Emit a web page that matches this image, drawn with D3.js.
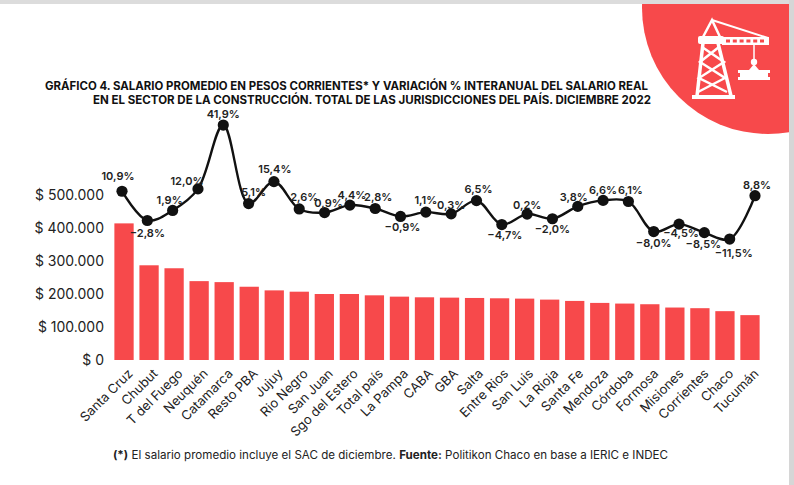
<!DOCTYPE html>
<html>
<head>
<meta charset="utf-8">
<script src="https://cdn.jsdelivr.net/npm/d3@7/dist/d3.min.js"></script>
<style>
  html, body { margin: 0; padding: 0; background: #fff; }
  svg { display: block; font-family: "Inter", "Noto Sans", sans-serif; }
</style>
</head>
<body>
<svg id="chart" width="794" height="485"></svg>
<script>
// ---------------- DATA ----------------
const categories = ["Santa Cruz","Chubut","T del Fuego","Neuquén","Catamarca","Resto PBA","Jujuy","Rio Negro","San Juan","Sgo del Estero","Total país","La Pampa","CABA","GBA","Salta","Entre Rios","San Luis","La Rioja","Santa Fe","Mendoza","Córdoba","Formosa","Misiones","Corrientes","Chaco","Tucumán"];
const salario = [414000,287000,278000,239000,236000,222000,211000,207000,200000,200000,196000,192000,190000,189000,188000,187000,186000,183000,179000,173000,171000,169000,159000,157000,148000,136000];
const variacion = [10.9,-2.8,1.9,12.0,41.9,5.1,15.4,2.6,0.9,4.4,2.8,-0.9,1.1,0.3,6.5,-4.7,0.2,-2.0,3.8,6.6,6.1,-8.0,-4.5,-8.5,-11.5,8.8];
const yTicks = [0,100000,200000,300000,400000,500000];
const titleLines = [
  "GRÁFICO 4. SALARIO PROMEDIO EN PESOS CORRIENTES* Y VARIACIÓN % INTERANUAL DEL SALARIO REAL",
  "EN EL SECTOR DE LA CONSTRUCCIÓN. TOTAL DE LAS JURISDICCIONES DEL PAÍS. DICIEMBRE 2022"
];
// label nudges (style): [dx, dy] relative to point
const labelNudge = [[-4,-15],[0,13],[-3,-10],[-11,-8],[0,-11],[5,-11],[1,-12],[5,-12],[4,-9],[2,-10],[3,-11],[2,11],[0,-12],[0,-9],[2,-11],[3,11],[0,-9],[0,10],[-4,-9],[0,-10],[2,-11],[0,12],[2,9],[-1,12],[4,14],[2,-11]];

// ---------------- LAYOUT ----------------
const svg = d3.select("#chart");
const RED = "#F7494B";
const fmt = v => "$ " + d3.format(",")(v).replace(/,/g, ".");
const pct = v => d3.format(".1f")(v).replace(".", ",") + "%";

// frame decorations
svg.append("rect").attr("x",0).attr("y",0).attr("width",794).attr("height",4).attr("fill","#dcdcdc");
svg.append("rect").attr("x",789).attr("y",0).attr("width",5).attr("height",485).attr("fill","#d6d6d6");

// red circle top-right
const deco = svg.append("g");
deco.append("clipPath").attr("id","clipc").append("rect").attr("x",0).attr("y",4).attr("width",789).attr("height",481);
deco.append("circle").attr("cx",768).attr("cy",8).attr("r",126).attr("fill",RED).attr("clip-path","url(#clipc)");

// crane icon (white)
const crane = svg.append("g").attr("fill","#fff").attr("stroke","#fff");
crane.append("rect").attr("x",692).attr("y",95).attr("width",43).attr("height",4).attr("stroke","none");
crane.append("path").attr("d","M703,43 L697,96 M718,43 L731,96").attr("stroke-width",3.5).attr("fill","none");
crane.append("path").attr("d","M702,47 L724,62 L699,78 L727,92 M719,47 L700,62 L725,78 L698,92").attr("stroke-width",2.5).attr("fill","none");
crane.append("rect").attr("x",698).attr("y",36).attr("width",26).attr("height",8).attr("rx",2).attr("stroke","none");
crane.append("path").attr("d","M703,37 L712,20 L720,37").attr("stroke-width",2.5).attr("fill","none");
crane.append("path").attr("d","M712,20 L768,38").attr("stroke-width",2).attr("fill","none");
crane.append("rect").attr("x",722).attr("y",37).attr("width",47).attr("height",8).attr("stroke","none");
const jibHoles = d3.range(6);
crane.selectAll(".hole").data(jibHoles).join("rect").attr("x",(d)=>726+d*6.8).attr("y",39.5).attr("width",4).attr("height",3).attr("fill",RED).attr("stroke","none");
crane.append("path").attr("d","M754,45 L754,59").attr("stroke-width",1.5).attr("fill","none");
crane.append("circle").attr("cx",754).attr("cy",62).attr("r",3.2).attr("stroke","none");
crane.append("path").attr("d","M754,64 L749,70 L759,70 Z").attr("stroke","none");
crane.append("path").attr("d","M738,70 L770,70 L770,73 L757,73 L757,77 L770,77 L770,80 L738,80 L738,77 L751,77 L751,73 L738,73 Z").attr("stroke","none");
crane.append("rect").attr("x",740).attr("y",72).attr("width",28).attr("height",6).attr("stroke","none");

// title
const title = svg.append("g").attr("font-weight",700).attr("font-size",11.6).attr("fill","#111");
title.append("text").attr("x",45).attr("y",90).attr("textLength",603).attr("lengthAdjust","spacingAndGlyphs").text(titleLines[0]);
title.append("text").attr("x",93).attr("y",103.5).attr("textLength",558).attr("lengthAdjust","spacingAndGlyphs").text(titleLines[1]);

// scales
const x = d3.scaleBand().domain(categories).range([111.5, 762.5]).paddingInner(0.23).paddingOuter(0.115);
const xLine = d3.scalePoint().domain(categories).range([122, 755]);
const y = d3.scaleLinear().domain([0, 600000]).range([360, 162]);
const yP = d3.scaleLinear().domain([-20, 45]).range([214.5 + 20*2.135, 214.5 - 45*2.135]);

// y axis (labels only)
const yAxis = svg.append("g").attr("transform","translate(104,0)")
  .call(d3.axisLeft(y).tickValues(yTicks).tickFormat(fmt).tickSize(0).tickPadding(0));
yAxis.select(".domain").remove();
yAxis.selectAll("text").attr("font-family","Inter, sans-serif").attr("font-size",14).attr("fill","#222");

// bars
svg.append("g").selectAll("rect").data(categories).join("rect")
  .attr("x", d => x(d))
  .attr("y", (d,i) => y(salario[i]))
  .attr("width", x.bandwidth())
  .attr("height", (d,i) => y(0) - y(salario[i]))
  .attr("fill", RED);

// x axis labels
const xAxis = svg.append("g").attr("transform","translate(0,360)")
  .call(d3.axisBottom(x).tickSize(0).tickPadding(0));
xAxis.select(".domain").remove();
xAxis.selectAll("text")
  .attr("font-family","Inter, sans-serif").attr("font-size",13).attr("fill","#222")
  .attr("text-anchor","end")
  .attr("transform","translate(3,8) rotate(-45)")
  .attr("dy","0.7em").attr("y",0);

// line
const line = d3.line().x((d,i) => xLine(categories[i])).y(d => yP(d)).curve(d3.curveCatmullRom.alpha(0.5));
svg.append("path").datum(variacion).attr("d", line).attr("fill","none").attr("stroke","#111").attr("stroke-width",2.4);
svg.append("g").selectAll("circle").data(variacion).join("circle")
  .attr("cx",(d,i)=>xLine(categories[i])).attr("cy",d=>yP(d)).attr("r",5.6).attr("fill","#111");

// percentage labels
svg.append("g").selectAll("text").data(variacion).join("text")
  .attr("x",(d,i)=>xLine(categories[i]) + labelNudge[i][0])
  .attr("y",(d,i)=>yP(d) + labelNudge[i][1])
  .attr("dy","0.35em")
  .attr("text-anchor","middle")
  .attr("font-size",11).attr("font-weight",600).attr("fill","#222")
  .text(d => pct(d));

// footer
const foot = svg.append("text").attr("x",113).attr("y",459).attr("font-size",11.2).attr("fill","#222")
  .attr("textLength",555).attr("lengthAdjust","spacingAndGlyphs");
foot.append("tspan").attr("font-weight",700).text("(*)");
foot.append("tspan").text(" El salario promedio incluye el SAC de diciembre. ");
foot.append("tspan").attr("font-weight",700).text("Fuente:");
foot.append("tspan").text(" Politikon Chaco en base a IERIC e INDEC");
</script>
</body>
</html>
